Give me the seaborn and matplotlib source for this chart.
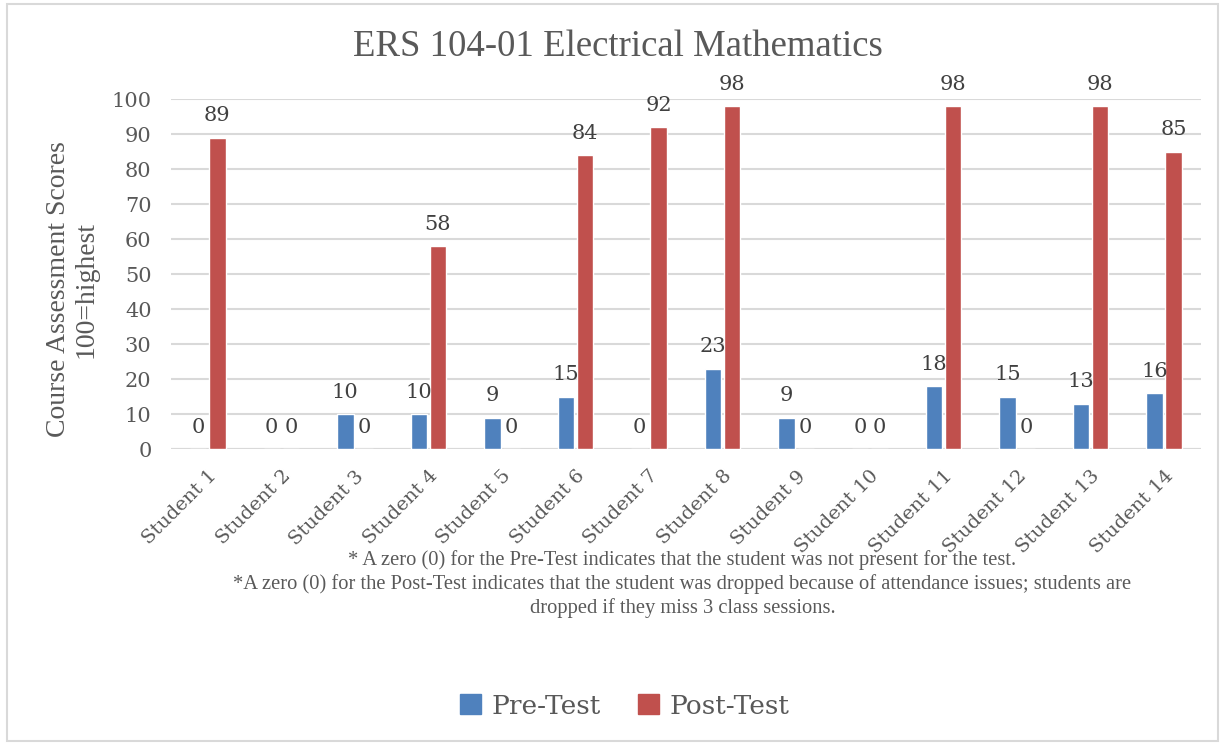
import matplotlib
matplotlib.use("Agg")
import matplotlib.pyplot as plt
import matplotlib.patches as mpatches
import seaborn as sns
import pandas as pd

# data
students = [f"Student {i}" for i in range(1, 15)]
pre_test = [0, 0, 10, 10, 9, 15, 0, 23, 9, 0, 18, 15, 13, 16]
post_test = [89, 0, 0, 58, 0, 84, 92, 98, 0, 0, 98, 0, 98, 85]
series = ["Pre-Test", "Post-Test"]
colors = ["#4F81BD", "#C0504D"]

footnote = ("* A zero (0) for the Pre-Test indicates that the student was not present for the test.\n"
            "*A zero (0) for the Post-Test indicates that the student was dropped because of attendance issues; students are\n"
            "dropped if they miss 3 class sessions.")

df = pd.DataFrame({
    "student": students * 2,
    "score": pre_test + post_test,
    "test": [series[0]] * len(students) + [series[1]] * len(students),
})

sns.set_style("white")
text_col = "#595959"
grid_col = "#D9D9D9"

fig = plt.figure(figsize=(12.23, 7.45), dpi=100)
ax = fig.add_axes([0.1398, 0.3973, 0.842, 0.4698])

sns.barplot(data=df, x="student", y="score", hue="test", palette=colors,
            width=0.52, gap=0.14, ax=ax, legend=False, saturation=1)

for cont in ax.containers:
    ax.bar_label(cont, padding=9, fontsize=15, family="DejaVu Serif", color="#404040")

ax.set_ylim(0, 100)
ax.set_xlim(-0.5, len(students) - 0.5)
ax.set_yticks(range(0, 101, 10))
ax.yaxis.grid(True, color=grid_col, lw=1.5)
ax.set_axisbelow(True)
for s in ax.spines.values():
    s.set_visible(False)
ax.axhline(0, color=grid_col, lw=1.5, zorder=0.5)
ax.set_xlabel("")
ax.set_ylabel("")
ax.tick_params(axis="y", length=0, pad=14, labelsize=15, labelcolor=text_col)
ax.tick_params(axis="x", length=0, pad=13, labelsize=14, labelcolor=text_col)
for lab in ax.get_yticklabels():
    lab.set_family("DejaVu Serif")
for lab in ax.get_xticklabels():
    lab.set_family("DejaVu Serif")
    lab.set_rotation(45)
    lab.set_ha("right")
    lab.set_va("top")
    lab.set_rotation_mode("anchor")

fig.text(0.505, 0.937, "ERS 104-01 Electrical Mathematics", ha="center", va="center",
         fontsize=26.5, family="Liberation Serif", color=text_col)
fig.text(0.059, 1 - 289 / 745, "Course Assessment Scores\n100=highest", rotation=90,
         ha="center", va="center", fontsize=20, family="Liberation Serif",
         color=text_col, linespacing=1.15)
fig.text(0.558, 1 - 584 / 745, footnote, ha="center", va="center", fontsize=14.8,
         family="Liberation Serif", color=text_col, linespacing=1.25)

handles = [mpatches.Patch(color=c, label=s) for c, s in zip(colors, series)]
leg = fig.legend(handles=handles, loc="center", bbox_to_anchor=(0.511, 1 - 706 / 745),
                 ncol=2, frameon=False, handlelength=0.8, handleheight=0.8,
                 handletextpad=0.4, columnspacing=1.4,
                 prop={"family": "DejaVu Serif", "size": 19})
for t in leg.get_texts():
    t.set_color(text_col)

fig.patches.append(mpatches.Rectangle((0.006, 0.006), 0.99, 0.988, transform=fig.transFigure,
                                      fill=False, edgecolor=grid_col, lw=1.5))

fig.savefig("out.png", dpi=100)
